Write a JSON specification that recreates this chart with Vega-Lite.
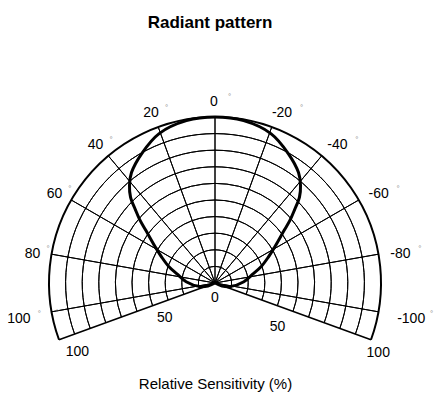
{
  "$schema": "https://vega.github.io/schema/vega-lite/v6.json",
  "width": 430,
  "height": 238,
  "autosize": {"type": "none"},
  "padding": {"left": 0, "top": 164, "right": 8, "bottom": 0},
  "background": "white",
  "title": {"text": "Radiant pattern", "fontSize": 17, "fontWeight": "bold", "font": "Liberation Sans", "color": "black", "anchor": "middle", "frame": "group", "offset": 61, "dx": -5},
  "config": {"view": {"stroke": null}, "font": "Liberation Sans"},
  "datasets": {
    "rings": [{"r": 10}, {"r": 20}, {"r": 30}, {"r": 40}, {"r": 50}, {"r": 60}, {"r": 70}, {"r": 80}, {"r": 90}, {"r": 100}],
    "spokes": [{"a": -110}, {"a": -100}, {"a": -80}, {"a": -60}, {"a": -40}, {"a": -20}, {"a": 0}, {"a": 20}, {"a": 40}, {"a": 60}, {"a": 80}, {"a": 100}, {"a": 110}],
    "angleLabels": [
      {"a": 0, "lab": "0"}, {"a": 20, "lab": "20"}, {"a": 40, "lab": "40"}, {"a": 60, "lab": "60"}, {"a": 80, "lab": "80"}, {"a": 100, "lab": "100"},
      {"a": -20, "lab": "-20"}, {"a": -40, "lab": "-40"}, {"a": -60, "lab": "-60"}, {"a": -80, "lab": "-80"}, {"a": -100, "lab": "-100"}
    ],
    "radLabels": [
      {"a": 180, "r": 9, "lab": "0"},
      {"a": 125, "r": 37, "lab": "50"},
      {"a": -125, "r": 46, "lab": "50"},
      {"a": 116.6, "r": 92.7, "lab": "100"},
      {"a": -113.2, "r": 107, "lab": "100"}
    ],
    "pattern": [
      {"a": -120, "s": 0}, {"a": -112.6, "s": 4.6}, {"a": -103, "s": 9.5}, {"a": -87.4, "s": 17.4}, {"a": -76.9, "s": 23.3}, {"a": -70.8, "s": 29.2}, {"a": -64.4, "s": 35.4}, {"a": -59.1, "s": 41.7}, {"a": -52.7, "s": 52.4}, {"a": -49.9, "s": 59.3}, {"a": -47.4, "s": 65.1}, {"a": -44.5, "s": 72.6}, {"a": -41.2, "s": 78.2}, {"a": -37.1, "s": 83.4}, {"a": -29.4, "s": 89.7}, {"a": -20.5, "s": 96.1}, {"a": -10, "s": 99.3},
      {"a": 0, "s": 100},
      {"a": 10, "s": 99.3}, {"a": 20.5, "s": 96.1}, {"a": 29.4, "s": 89.7}, {"a": 37.1, "s": 83.4}, {"a": 41.2, "s": 78.2}, {"a": 44.5, "s": 72.6}, {"a": 47.4, "s": 65.1}, {"a": 49.9, "s": 59.3}, {"a": 52.7, "s": 52.4}, {"a": 59.1, "s": 41.7}, {"a": 64.4, "s": 35.4}, {"a": 70.8, "s": 29.2}, {"a": 76.9, "s": 23.3}, {"a": 87.4, "s": 17.4}, {"a": 103, "s": 9.5}, {"a": 112.6, "s": 4.6}, {"a": 120, "s": 0}
    ]
  },
  "layer": [
    {
      "data": {"name": "rings"},
      "transform": [{"filter": "datum.r < 100"}],
      "mark": {"type": "arc", "filled": false, "fill": null, "stroke": "black", "strokeWidth": 1},
      "encoding": {
        "theta": {"datum": -110, "scale": {"type": "linear", "domain": [-180, 180], "range": [3.141592653589793, -3.141592653589793], "zero": false, "nice": false}},
        "theta2": {"datum": 110},
        "radius": {"field": "r", "type": "quantitative", "stack": null, "scale": {"type": "linear", "domain": [0, 100], "range": [0, 166], "zero": true, "nice": false}},
        "radius2": {"field": "r"}
      }
    },
    {
      "data": {"name": "spokes"},
      "transform": [{"filter": "abs(datum.a) < 110"}],
      "mark": {"type": "arc", "filled": false, "fill": null, "stroke": "black", "strokeWidth": 1},
      "encoding": {
        "theta": {"field": "a", "type": "quantitative", "stack": null},
        "theta2": {"field": "a"},
        "radius": {"datum": 100},
        "radius2": {"datum": 0}
      }
    },
    {
      "data": {"name": "spokes"},
      "transform": [{"filter": "abs(datum.a) >= 110"}],
      "mark": {"type": "arc", "filled": false, "fill": null, "stroke": "black", "strokeWidth": 1.5},
      "encoding": {
        "theta": {"field": "a", "type": "quantitative", "stack": null},
        "theta2": {"field": "a"},
        "radius": {"datum": 100},
        "radius2": {"datum": 0}
      }
    },
    {
      "data": {"name": "rings"},
      "transform": [{"filter": "datum.r == 100"}],
      "mark": {"type": "arc", "filled": false, "fill": null, "stroke": "black", "strokeWidth": 2},
      "encoding": {
        "theta": {"datum": -110},
        "theta2": {"datum": 110},
        "radius": {"field": "r", "type": "quantitative", "stack": null},
        "radius2": {"field": "r"}
      }
    },
    {
      "data": {"name": "pattern"},
      "transform": [
        {"calculate": "-datum.s * sin(datum.a * PI / 180)", "as": "px"},
        {"calculate": "datum.s * cos(datum.a * PI / 180)", "as": "py"}
      ],
      "mark": {"type": "line", "stroke": "black", "strokeWidth": 3, "interpolate": "catmull-rom"},
      "encoding": {
        "x": {"field": "px", "type": "quantitative", "scale": {"domain": [-129.518, 129.518], "nice": false, "zero": false},
          "axis": {"domain": false, "ticks": false, "labels": false, "grid": false, "offset": -26, "titlePadding": 0, "title": "Relative Sensitivity (%)", "titleFontSize": 15, "titleFontWeight": "normal", "titleColor": "black", "titleFont": "Liberation Sans"}},
        "y": {"field": "py", "type": "quantitative", "scale": {"domain": [-71.687, 71.687], "nice": false, "zero": false}, "axis": null},
        "order": {"field": "a", "type": "quantitative"}
      }
    },
    {
      "data": {"name": "angleLabels"},
      "transform": [{"filter": "datum.a >= 0 && datum.a < 100"}],
      "mark": {"type": "text", "fontSize": 14, "font": "Liberation Sans", "color": "black", "align": "center", "baseline": "middle", "dx": -1, "dy": 3},
      "encoding": {
        "theta": {"field": "a", "type": "quantitative", "stack": null},
        "radius": {"datum": 111},
        "text": {"field": "lab"}
      }
    },
    {
      "data": {"name": "angleLabels"},
      "transform": [{"filter": "datum.a < 0 && datum.a > -100"}],
      "mark": {"type": "text", "fontSize": 14, "font": "Liberation Sans", "color": "black", "align": "center", "baseline": "middle", "dx": 4, "dy": 3},
      "encoding": {
        "theta": {"field": "a", "type": "quantitative", "stack": null},
        "radius": {"datum": 111},
        "text": {"field": "lab"}
      }
    },
    {
      "data": {"name": "angleLabels"},
      "transform": [{"filter": "abs(datum.a) == 100"}],
      "mark": {"type": "text", "fontSize": 14, "font": "Liberation Sans", "color": "black", "align": "center", "baseline": "middle", "dy": 1},
      "encoding": {
        "theta": {"field": "a", "type": "quantitative", "stack": null},
        "radius": {"datum": 120},
        "text": {"field": "lab"}
      }
    },
    {
      "data": {"name": "angleLabels"},
      "transform": [{"filter": "length(datum.lab) <= 2"}],
      "mark": {"type": "text", "fontSize": 8, "font": "Liberation Sans", "color": "#888888", "align": "center", "baseline": "middle", "dx": 14.5, "dy": -2},
      "encoding": {
        "theta": {"field": "a", "type": "quantitative", "stack": null},
        "radius": {"datum": 111},
        "text": {"value": "°"}
      }
    },
    {
      "data": {"name": "angleLabels"},
      "transform": [{"filter": "length(datum.lab) == 3"}],
      "mark": {"type": "text", "fontSize": 8, "font": "Liberation Sans", "color": "#888888", "align": "center", "baseline": "middle", "dx": 23.5, "dy": -2},
      "encoding": {
        "theta": {"field": "a", "type": "quantitative", "stack": null},
        "radius": {"datum": 111},
        "text": {"value": "°"}
      }
    },
    {
      "data": {"name": "angleLabels"},
      "transform": [{"filter": "abs(datum.a) == 100"}],
      "mark": {"type": "text", "fontSize": 8, "font": "Liberation Sans", "color": "#888888", "align": "center", "baseline": "middle", "dx": 20.5, "dy": -4},
      "encoding": {
        "theta": {"field": "a", "type": "quantitative", "stack": null},
        "radius": {"datum": 120},
        "text": {"value": "°"}
      }
    },
    {
      "data": {"name": "radLabels"},
      "mark": {"type": "text", "fontSize": 14, "font": "Liberation Sans", "color": "black", "align": "center", "baseline": "middle"},
      "encoding": {
        "theta": {"field": "a", "type": "quantitative", "stack": null},
        "radius": {"field": "r", "type": "quantitative", "stack": null},
        "text": {"field": "lab"}
      }
    }
  ]
}
